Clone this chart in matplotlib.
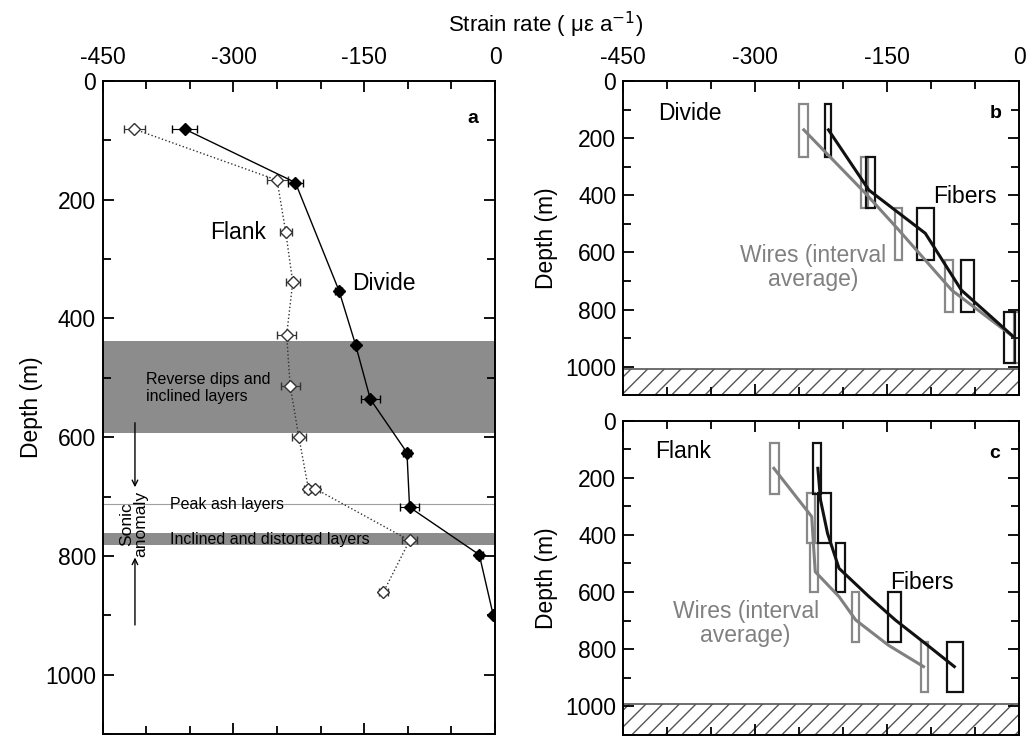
import numpy as np
import matplotlib.pyplot as plt

plt.rcParams['font.family'] = ['Liberation Sans', 'DejaVu Sans']
plt.rcParams['axes.unicode_minus'] = False

# ---- panel a: strain rate profiles (micro-strain per year) vs depth (m)
divide_rate = [-356, -229, -179, -160, -143, -101, -98, -18, -2]
divide_depth = [81, 171, 353, 444, 536, 626, 718, 798, 900]
divide_err = [14, 9, 4, 3, 11, 5, 11, 4, 2]

flank_rate = [-414, -250, -240, -232, -239, -235, -225, -214, -206, -98, -128]
flank_depth = [81, 167, 255, 339, 428, 513, 600, 687, 687, 774, 861]
flank_err = [12, 12, 7, 8, 11, 11, 8, 5, 5, 9, 5]

reverse_band = (438, 593)
ash_depth = 713
inclined_band = (761, 782)

# ---- panel b: divide, interval boxes (rate min/max, depth top/bottom)
b_wire_lo = [-250, -180, -141, -85, -6]
b_wire_hi = [-240, -172, -133, -75, -1]
b_fiber_lo = [-221, -174, -116, -66, -18]
b_fiber_hi = [-214, -164, -97, -52, -5]
b_top = [80, 265, 446, 627, 808]
b_bot = [267, 446, 627, 808, 988]
b_wire_line_x = [-245, -175, -137, -77, -5]
b_wire_line_d = [171, 393, 522, 732, 900]
b_fiber_line_x = [-217, -171, -107, -66, -5]
b_fiber_line_d = [171, 382, 533, 732, 900]

# ---- panel c: flank
c_wire_lo = [-283, -241, -238, -190, -112]
c_wire_hi = [-273, -232, -229, -182, -104]
c_fiber_lo = [-234, -229, -208, -149, -82]
c_fiber_hi = [-226, -214, -198, -135, -64]
c_top = [80, 255, 430, 601, 776]
c_bot = [257, 430, 601, 776, 951]
c_wire_line_x = [-279, -236, -232, -205, -186, -149, -109]
c_wire_line_d = [167, 336, 529, 616, 698, 786, 861]
c_fiber_line_x = [-229, -226, -218, -205, -171, -141, -107, -74]
c_fiber_line_d = [167, 278, 395, 517, 616, 698, 780, 861]

xticks = [-450, -300, -150, 0]
yticks = [0, 200, 400, 600, 800, 1000]

W, H = 1026, 737
fig = plt.figure(figsize=(W / 100, H / 100), dpi=100)


def px_axes(left, top, right, bottom):
    return fig.add_axes([left / W, 1 - bottom / H, (right - left) / W, (bottom - top) / H])


def style(ax, labeltop=True):
    ax.set_xlim(-450, 0)
    ax.set_ylim(1100, 0)
    ax.set_xticks(xticks)
    ax.set_xticks(np.arange(-450, 1, 50), minor=True)
    ax.set_yticks(yticks)
    ax.set_yticks(np.arange(0, 1101, 100), minor=True)
    ax.tick_params(which='both', direction='in', top=True, bottom=True, left=True, right=True,
                   labeltop=labeltop, labelbottom=False, width=1.3, labelsize=16.5)
    ax.tick_params(which='major', length=8)
    ax.tick_params(which='minor', length=5.5)
    ax.tick_params(axis='x', pad=9)
    ax.tick_params(axis='y', pad=5)
    for s in ax.spines.values():
        s.set_linewidth(1.4)


# panel a
ax = px_axes(102.7, 81, 495, 734)
style(ax)
ax.axhspan(*reverse_band, color='#8c8c8c', lw=0, zorder=0)
ax.axhspan(*inclined_band, color='#8c8c8c', lw=0, zorder=0)
ax.axhline(ash_depth, color='#a0a0a0', lw=0.8, zorder=0)
ax.errorbar(flank_rate, flank_depth, xerr=flank_err, fmt='D', ls=':', color='#333333',
            mfc='white', mec='#333333', ms=6.5, capsize=3, elinewidth=0.8, lw=1.0, zorder=3)
ax.errorbar(divide_rate, divide_depth, xerr=divide_err, fmt='D', ls='-', color='black',
            mfc='black', ms=6, capsize=3, elinewidth=0.8, lw=1.0, zorder=4)
ax.text(-327, 256, 'Flank', fontsize=16.5, va='center')
ax.text(-164, 341, 'Divide', fontsize=16.5, va='center')
ax.text(-26, 63, 'a', fontsize=14, fontweight='bold', ha='center', va='center')
ax.text(-400, 517, 'Reverse dips and\ninclined layers', fontsize=11.5, va='center', linespacing=1.2)
ax.text(-373, 713, 'Peak ash layers', fontsize=11.5, va='center')
ax.text(-373, 773, 'Inclined and distorted layers', fontsize=11.5, va='center')
ax.annotate('', xy=(-413, 689), xytext=(-413, 571),
            arrowprops=dict(arrowstyle='->', lw=1, color='black'))
ax.annotate('', xy=(-413, 798), xytext=(-413, 921),
            arrowprops=dict(arrowstyle='->', lw=1, color='black'))
ax.text(-414, 746, 'Sonic\nanomaly', fontsize=12.5, rotation=90, ha='center', va='center',
        linespacing=0.9)
ax.set_ylabel('Depth (m)', fontsize=16.5)
ax.yaxis.set_label_coords(-0.152, 0.5)

fig.text(546 / W, 1 - 25 / H, 'Strain rate ( \u03bc\u03b5 a$^{-1}$)', fontsize=16,
         ha='center', va='center')


def box_panel(ax, wlo, whi, flo, fhi, top, bot, wlx, wld, flx, fld, hatch_top):
    ax.axhspan(hatch_top, 1100, facecolor='white', edgecolor='#555555',
               hatch='//', lw=1.2, zorder=1)
    ax.bar(wlo, np.subtract(bot, top), width=np.subtract(whi, wlo), bottom=top, align='edge',
           fill=False, edgecolor='#888888', lw=1.6, zorder=2)
    ax.bar(flo, np.subtract(bot, top), width=np.subtract(fhi, flo), bottom=top, align='edge',
           fill=False, edgecolor='#111111', lw=1.6, zorder=2)
    ax.plot(wlx, wld, color='#808080', lw=2.2, zorder=3)
    ax.plot(flx, fld, color='#111111', lw=2.2, zorder=3)
    ax.set_ylabel('Depth (m)', fontsize=16.5)
    ax.yaxis.set_label_coords(-0.166, 0.5)


axb = px_axes(623.3, 81, 1019.5, 395.3)
style(axb)
box_panel(axb, b_wire_lo, b_wire_hi, b_fiber_lo, b_fiber_hi, b_top, b_bot,
          b_wire_line_x, b_wire_line_d, b_fiber_line_x, b_fiber_line_d, 1008)
axb.text(-410, 113, 'Divide', fontsize=16.5, va='center')
axb.text(-27, 113, 'b', fontsize=14, fontweight='bold', ha='center', va='center')
axb.text(-98, 405, 'Fibers', fontsize=16.5, va='center')
axb.text(-234, 652, 'Wires (interval\naverage)', fontsize=16.5, color='#808080',
         ha='center', va='center', linespacing=1.05)

axc = px_axes(623.3, 420.6, 1019.5, 734.9)
style(axc, labeltop=False)
box_panel(axc, c_wire_lo, c_wire_hi, c_fiber_lo, c_fiber_hi, c_top, c_bot,
          c_wire_line_x, c_wire_line_d, c_fiber_line_x, c_fiber_line_d, 992)
axc.text(-414, 109, 'Flank', fontsize=16.5, va='center')
axc.text(-28, 115, 'c', fontsize=14, fontweight='bold', ha='center', va='center')
axc.text(-147, 567, 'Fibers', fontsize=16.5, va='center')
axc.text(-311, 709, 'Wires (interval\naverage)', fontsize=16.5, color='#808080',
         ha='center', va='center', linespacing=1.05)

fig.savefig('out.png', dpi=100)
